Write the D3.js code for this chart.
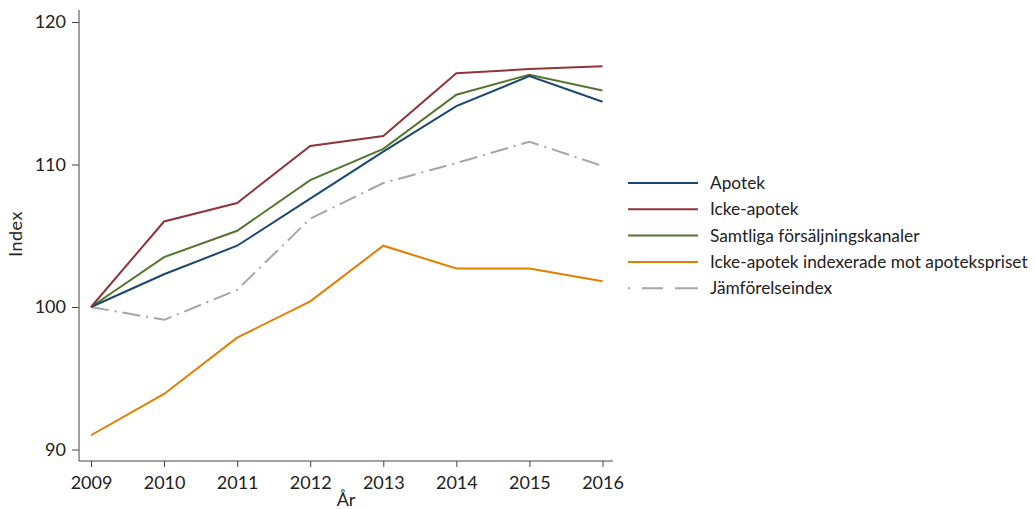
<!DOCTYPE html>
<html>
<head>
<meta charset="utf-8">
<script src="https://cdn.jsdelivr.net/npm/d3@7"></script>
<style>
  body { margin: 0; background: #fff; }
  svg { font-family: Lato, "Noto Sans", sans-serif; }
</style>
</head>
<body>
<div id="chart"></div>
<script>
/* Prisindex per försäljningskanal, 2009 = 100 */

const years = [2009, 2010, 2011, 2012, 2013, 2014, 2015, 2016];
const yTicks = [90, 100, 110, 120];

const apotek = [100, 102.3, 104.3, 107.6, 110.9, 114.1, 116.2, 114.4];
const ickeApotek = [100, 106.0, 107.3, 111.3, 112.0, 116.4, 116.7, 116.9];
const samtliga = [100, 103.5, 105.35, 108.9, 111.1, 114.9, 116.3, 115.2];
const ickeIndexerade = [91.0, 93.9, 97.85, 100.4, 104.3, 102.7, 102.7, 101.8];
const jamforelse = [100, 99.1, 101.2, 106.2, 108.7, 110.1, 111.6, 109.9];

const seriesNames = ["Apotek", "Icke-apotek", "Samtliga försäljningskanaler",
                     "Icke-apotek indexerade mot apotekspriset", "Jämförelseindex"];
const seriesValues = [apotek, ickeApotek, samtliga, ickeIndexerade, jamforelse];
const colors = ["#1a476f", "#90353b", "#55752f", "#e37e00", "#a6a6a6"];
const dashes = [null, null, null, null, "18,6,2,6"];

const width = 1035, height = 509;

const svg = d3.select("#chart")
    .append("svg")
    .attr("width", width)
    .attr("height", height);

// x: year positions
const x = d3.scaleLinear()
    .domain([2009, 2016])
    .range([91, 602.5]);

// y: index
const y = d3.scaleLinear()
    .domain([90, 120])
    .range([449.5, 22]);

const axisColor = "#444";

// axis lines drawn a bit past the data range, like the original
svg.append("line")
    .attr("x1", 79).attr("x2", 79)
    .attr("y1", 10).attr("y2", 461)
    .attr("stroke", axisColor).attr("stroke-width", 1);
svg.append("line")
    .attr("x1", 79).attr("x2", 613)
    .attr("y1", 461).attr("y2", 461)
    .attr("stroke", axisColor).attr("stroke-width", 1);

let yAxis = svg.append("g")
    .attr("transform", "translate(79,0)")
    .call(d3.axisLeft(y).tickValues(yTicks).tickSize(7).tickPadding(6).tickFormat(d3.format("d")));
let xAxis = svg.append("g")
    .attr("transform", "translate(0,461)")
    .call(d3.axisBottom(x).tickValues(years).tickSize(6).tickPadding(9).tickFormat(d3.format("d")));

for (let ax of [yAxis, xAxis]) {
    ax.select(".domain").remove();
    ax.selectAll("line").attr("stroke", axisColor);
    ax.selectAll("text")
        .attr("fill", "#222")
        .style("font-size", "18px")
        .style("font-family", "Lato, sans-serif");
}

// axis titles
svg.append("text")
    .attr("x", 346).attr("y", 506)
    .attr("text-anchor", "middle")
    .style("font-size", "18px")
    .attr("fill", "#222")
    .text("År");
svg.append("text")
    .attr("transform", "translate(22,234) rotate(-90)")
    .attr("text-anchor", "middle")
    .style("font-size", "18px")
    .style("letter-spacing", "0.5px")
    .attr("fill", "#222")
    .text("Index");

// lines
const line = d3.line()
    .x((d, i) => x(years[i]))
    .y(d => y(d));

// draw grey index first so the coloured lines sit on top
const order = [4, 3, 2, 0, 1];
for (let k of order) {
    svg.append("path")
        .datum(seriesValues[k])
        .attr("fill", "none")
        .attr("stroke", colors[k])
        .attr("stroke-width", 2)
        .attr("stroke-dasharray", dashes[k])
        .attr("d", line);
}

// legend
let legend = svg.append("g")
    .attr("transform", "translate(628,183)");
let item = legend.selectAll(".item")
    .data(seriesNames)
    .join("g")
    .attr("class", "item")
    .attr("transform", (d, i) => `translate(0,${i * 26.3})`);
item.append("line")
    .attr("x1", 0).attr("x2", 70)
    .attr("stroke", (d, i) => colors[i])
    .attr("stroke-width", 2)
    .attr("stroke-dasharray", (d, i) => i === 4 ? "2,12,21,12,23" : null);
item.append("text")
    .attr("x", 82)
    .attr("y", 6)
    .style("font-size", "17.3px")
    .attr("fill", "#222")
    .text(d => d);
</script>
</body>
</html>
